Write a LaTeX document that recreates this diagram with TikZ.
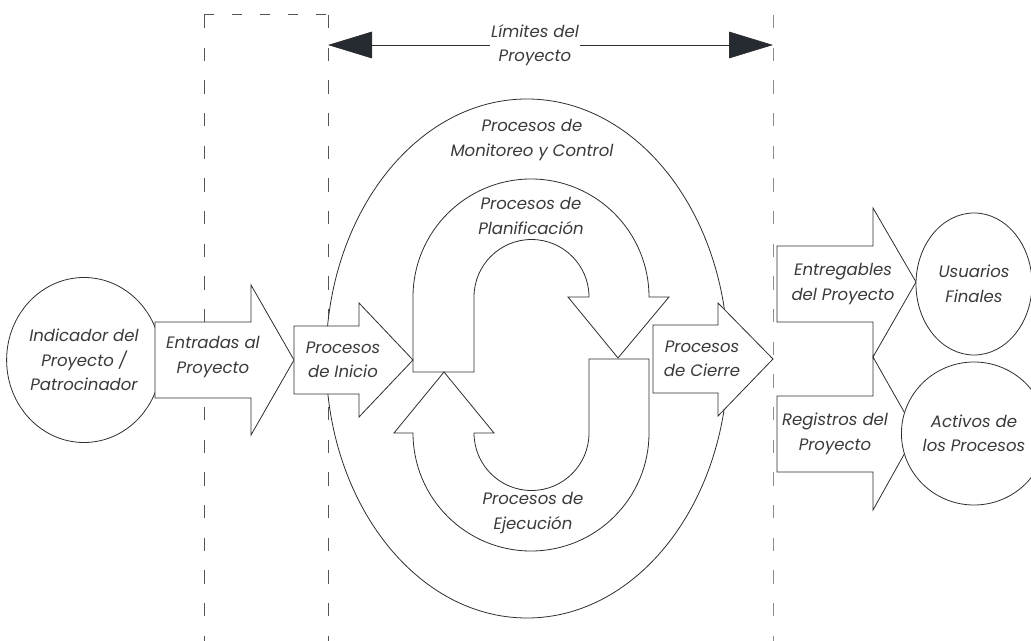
\documentclass[tikz,border=0pt]{standalone}
\usepackage{fontspec}
\newfontfamily\lblfont{Poppins}
\usetikzlibrary{arrows.meta,shapes.geometric}
\definecolor{ink}{HTML}{3A3A3A}
\definecolor{edge}{HTML}{2E2E2E}
\definecolor{dashdark}{HTML}{555555}
\definecolor{dashlight}{HTML}{8A8E92}
\definecolor{headfill}{HTML}{262B31}

\begin{document}
\begin{tikzpicture}[x=0.75pt,y=-0.75pt,
  lbl/.style={font=\fontsize{12.4}{18.4}\selectfont\lblfont\itshape, text=ink, align=center, inner sep=1pt},
  blk/.style={draw=edge, line width=0.6pt, fill=white, line join=miter},
  bound/.style={line width=0.75pt, dash pattern=on 10pt off 14.5pt},
  bound top/.style={line width=0.75pt, dash pattern=on 7.5pt off 13.5pt},
  oval/.style={ellipse, draw=edge, line width=0.6pt, fill=white, inner sep=0pt,
    font=\fontsize{12.4}{18.4}\selectfont\lblfont\itshape, text=ink, align=center},
  scope arrow/.style={draw=edge, line width=0.6pt,
    -{Triangle[length=33pt,width=20pt,fill=headfill]}},
]
\useasboundingbox (0,0) rectangle (1031,641);

% project boundary lines
\draw[bound top, draw=dashdark] (204,15) -- (328,15);
\draw[bound, draw=dashdark] (204,15) -- (204,641);
\draw[bound, draw=dashdark] (328,15) -- (328,641);
\draw[bound, draw=dashlight] (773,15) -- (773,641);

% project limits
\coordinate (limL) at (328,45);
\coordinate (limR) at (773,45);
\node[lbl] (lim) at (535,45) {Límites del\\Proyecto};
\draw[scope arrow] (lim.west) -- (limL);
\draw[scope arrow] (lim.east) -- (limR);

% monitoring and control
\node[oval, minimum width=301.5pt, minimum height=389.25pt] (monit) at (527,358.5) {};
\node[lbl] (mon) at (532,140) {Procesos de\\Monitoreo y Control};

% planning loop
\draw[blk] (413,372) -- (413,297) arc (180:360:118) -- (669,297) -- (618,358)
  -- (568,297) -- (589,297) arc (0:-180:57.5) -- (474,372) -- cycle;
\node[lbl] (plan) at (531,216) {Procesos de\\Planificación};

% execution loop
\draw[blk] (589,359) -- (649,359) -- (649,433) arc (0:180:118) -- (394,433)
  -- (444,372) -- (494,433) -- (474,433) arc (180:0:57.5) -- cycle;
\node[lbl] (ejec) at (533,513) {Procesos de\\Ejecución};

% sponsor
\node[oval, minimum width=106.5pt, minimum height=123.75pt] (spon) at (84,360)
  {Indicador del\\Proyecto /\\Patrocinador};

% inputs
\draw[blk] (155,322) -- (251,322) -- (251,285) -- (294,360) -- (251,435)
  -- (251,398) -- (155,398) -- cycle;
\node[lbl] (entr) at (213,357) {Entradas al\\Proyecto};

% initiating
\draw[blk] (294,326) -- (359,326) -- (359,303) -- (413,360) -- (359,417)
  -- (359,394) -- (294,394) -- cycle;
\node[lbl] (ini) at (343,360) {Procesos\\de Inicio};

% closing
\draw[blk] (653,325) -- (718,325) -- (718,303) -- (773,359) -- (718,416)
  -- (718,393) -- (653,393) -- cycle;
\node[lbl] (cier) at (702,359) {Procesos\\de Cierre};

% deliverables and records
\draw[blk] (777,246) -- (873,246) -- (873,208) -- (916,282) -- (873,357)
  -- (873,322) -- (777,322) -- cycle;
\node[lbl] (entg) at (843,284) {Entregables\\del Proyecto};
\draw[blk] (777,396) -- (873,396) -- (873,357) -- (916,433) -- (873,510)
  -- (873,472) -- (777,472) -- cycle;
\node[lbl] (reg) at (835,434) {Registros del\\Proyecto};

% receivers
\node[oval, minimum width=87pt, minimum height=106.5pt] (users) at (974,284)
  {Usuarios\\Finales};
\node[oval, minimum width=87pt, minimum height=107.25pt] (assets) at (974,433.5)
  {Activos de\\los Procesos};
\end{tikzpicture}
\end{document}
